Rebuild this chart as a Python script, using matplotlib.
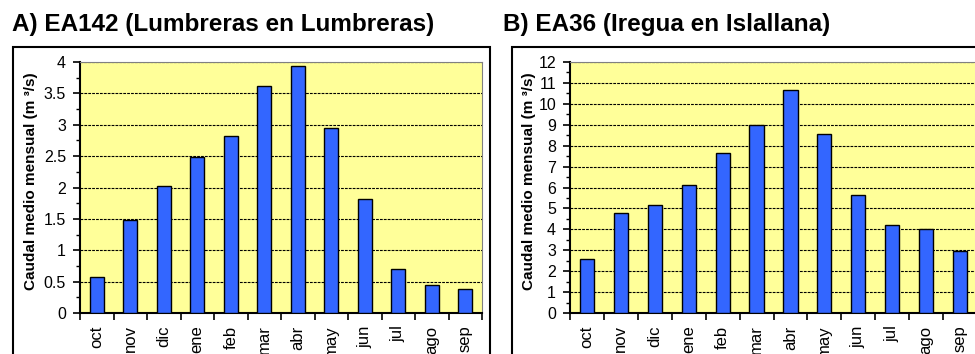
import numpy as np
import matplotlib
matplotlib.use("Agg")
import matplotlib.pyplot as plt
from matplotlib.patches import Rectangle
from matplotlib.ticker import MultipleLocator

plt.rcParams["font.family"] = ["Liberation Sans", "DejaVu Sans"]

months = ["oct", "nov", "dic", "ene", "feb", "mar",
          "abr", "may", "jun", "jul", "ago", "sep"]
caudal_a = [0.57, 1.49, 2.03, 2.48, 2.82, 3.62, 3.94, 2.95, 1.81, 0.70, 0.44, 0.38]
caudal_b = [2.58, 4.77, 5.15, 6.10, 7.63, 8.97, 10.68, 8.58, 5.63, 4.20, 4.01, 2.96]
title_a = "A) EA142 (Lumbreras en Lumbreras)"
title_b = "B) EA36 (Iregua en Islallana)"
ylabel = "Caudal medio mensual (m \u00b3/s)"

W, H = 975, 354
fig = plt.figure(figsize=(W / 100, H / 100), dpi=100)


def px(x0, y0, w, h):
    # pixel box (top-left origin) -> figure fraction
    return [x0 / W, 1 - (y0 + h) / H, w / W, h / H]


def panel(ax, vals, ymax, major, minor):
    x = np.arange(len(vals))
    ax.set_facecolor("#ffff99")
    ax.bar(x, vals, width=0.42, color="#3366ff", edgecolor="black",
           linewidth=1.0, zorder=3)
    ax.set_xlim(-0.5, len(vals) - 0.5)
    ax.set_ylim(0, ymax)
    ax.yaxis.set_major_locator(MultipleLocator(major))
    ax.yaxis.set_minor_locator(MultipleLocator(minor))
    ax.yaxis.set_major_formatter(plt.FuncFormatter(lambda v, p: f"{v:g}"))
    ax.grid(axis="y", which="major", color="black", linestyle=(0, (2.5, 1)),
            linewidth=0.8, zorder=1)
    ax.set_xticks(np.arange(len(vals) + 1) - 0.5)
    ax.set_xticklabels([])
    ax.set_xticks(x, minor=True)
    ax.set_xticklabels(months, minor=True, rotation=90, fontsize=12)
    ax.tick_params(axis="x", which="major", direction="out", length=5, width=1.2)
    ax.tick_params(axis="x", which="minor", length=0, pad=9)
    ax.tick_params(axis="y", which="major", direction="out", length=5,
                   width=1.2, labelsize=11.5, pad=5)
    ax.tick_params(axis="y", which="minor", direction="out", length=3, width=1)
    for s in ("left", "bottom"):
        ax.spines[s].set_linewidth(1.5)
    for s in ("top", "right"):
        ax.spines[s].set_color("#808080")
        ax.spines[s].set_linewidth(0.8)


# outer chart frames
fig.patches.append(Rectangle((13 / W, -0.1), (490 - 13) / W, 1 - 47 / H + 0.1,
                             transform=fig.transFigure, fill=False,
                             edgecolor="black", linewidth=1.5))
fig.patches.append(Rectangle((512 / W, -0.1), 0.6, 1 - 47 / H + 0.1,
                             transform=fig.transFigure, fill=False,
                             edgecolor="black", linewidth=1.5))

ax0 = fig.add_axes(px(80, 62, 402, 251))
panel(ax0, caudal_a, 4, 0.5, 0.25)
ax1 = fig.add_axes(px(570, 62, 407, 251))
panel(ax1, caudal_b, 12, 1, 0.5)

fig.text(12 / W, 1 - 24 / H, title_a, fontsize=17.5, fontweight="bold", va="center")
fig.text(503 / W, 1 - 24 / H, title_b, fontsize=17.5, fontweight="bold", va="center")
fig.text(31 / W, 1 - 181 / H, ylabel, rotation=90, fontsize=11,
         fontweight="bold", ha="center", va="center")
fig.text(529 / W, 1 - 181 / H, ylabel, rotation=90, fontsize=11,
         fontweight="bold", ha="center", va="center")

fig.savefig("out.png", dpi=100)
